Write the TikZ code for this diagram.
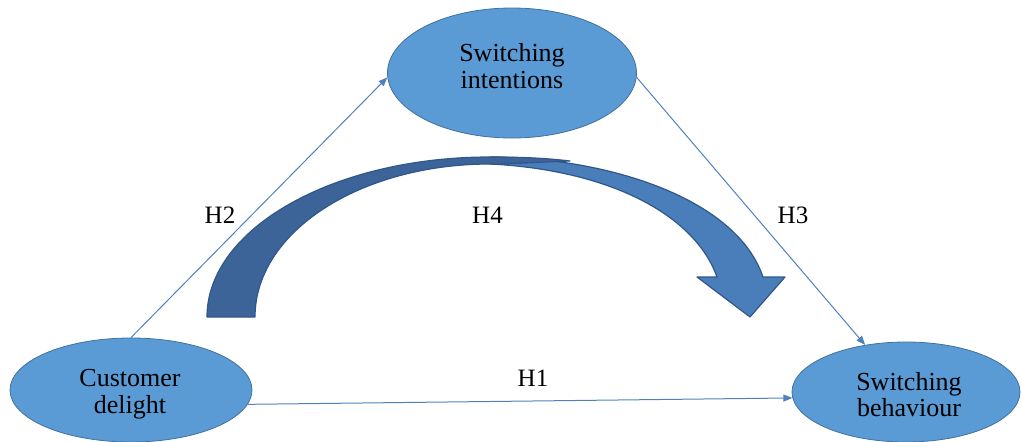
\documentclass[tikz,border=0pt]{standalone}
\usepackage{fontspec}
\setmainfont{Liberation Serif}
\usetikzlibrary{shapes.geometric,arrows.meta}
\definecolor{nodefill}{HTML}{5B9BD5}
\definecolor{nodeline}{HTML}{41719C}
\definecolor{connc}{HTML}{4F81BD}
\definecolor{arcdark}{HTML}{3C6498}
\definecolor{arclight}{HTML}{4A7EBB}
\definecolor{arcline}{HTML}{30578A}
\begin{document}
\begin{tikzpicture}[x=1pt,y=-1pt,
  oval/.style={ellipse, draw=nodeline, line width=0.8pt, fill=nodefill, inner sep=0pt},
  ovaltext/.style={anchor=base, inner sep=0pt, font=\fontsize{26}{28}\selectfont},
  link/.style={draw=connc, line width=1pt, -{Triangle[length=9pt,width=7pt]}},
  hlabel/.style={font=\fontsize{25}{27}\selectfont, inner sep=0pt},
  arcpart/.style={draw=arcline, line width=1.2pt, line join=round}]
\useasboundingbox (0,0) rectangle (1021,442);

% nodes
\node[oval, minimum width=249pt, minimum height=130pt] (si) at (512,73) {};
\node[oval, minimum width=242pt, minimum height=104pt] (cd) at (131,390) {};
\node[oval, minimum width=228pt, minimum height=100pt] (sb) at (906,392) {};

\node[ovaltext] (si1) at (512,61.5) {Switching};
\node[ovaltext] (si2) at (512,88) {intentions};
\node[ovaltext] (cd1) at (130,386.5) {Customer};
\node[ovaltext] (cd2) at (130,413) {delight};
\node[ovaltext] (sb1) at (909,390) {Switching};
\node[ovaltext] (sb2) at (909,416) {behaviour};

% connectors
\draw[link] (cd.north) -- (si.182);
\draw[link] (si.-2) -- (sb.131);
\draw[link] (cd.-7) -- (sb.183);

% curved block arrow (H4): light front part
\fill[arclight, arcpart] (490,157) .. controls (600,157) and (735,195) .. (763,277)
  -- (785,277) -- (750,317) -- (697,277) -- (717,277)
  .. controls (695,215) and (610,170) .. (490,164) -- cycle;
% dark back part
\fill[arcdark, arcpart] (207,317) .. controls (207,228.6) and (333.7,157) .. (490,157)
  .. controls (520,157) and (545,158) .. (570,161)
  .. controls (540,162) and (515,164) .. (490,164)
  .. controls (360,164) and (255,232) .. (255,317) -- cycle;

% labels
\node[hlabel] (h2) at (220,215.5) {H2};
\node[hlabel] (h4) at (487.5,215) {H4};
\node[hlabel] (h3) at (793,215) {H3};
\node[hlabel] (h1) at (533,378.5) {H1};
\end{tikzpicture}
\end{document}
